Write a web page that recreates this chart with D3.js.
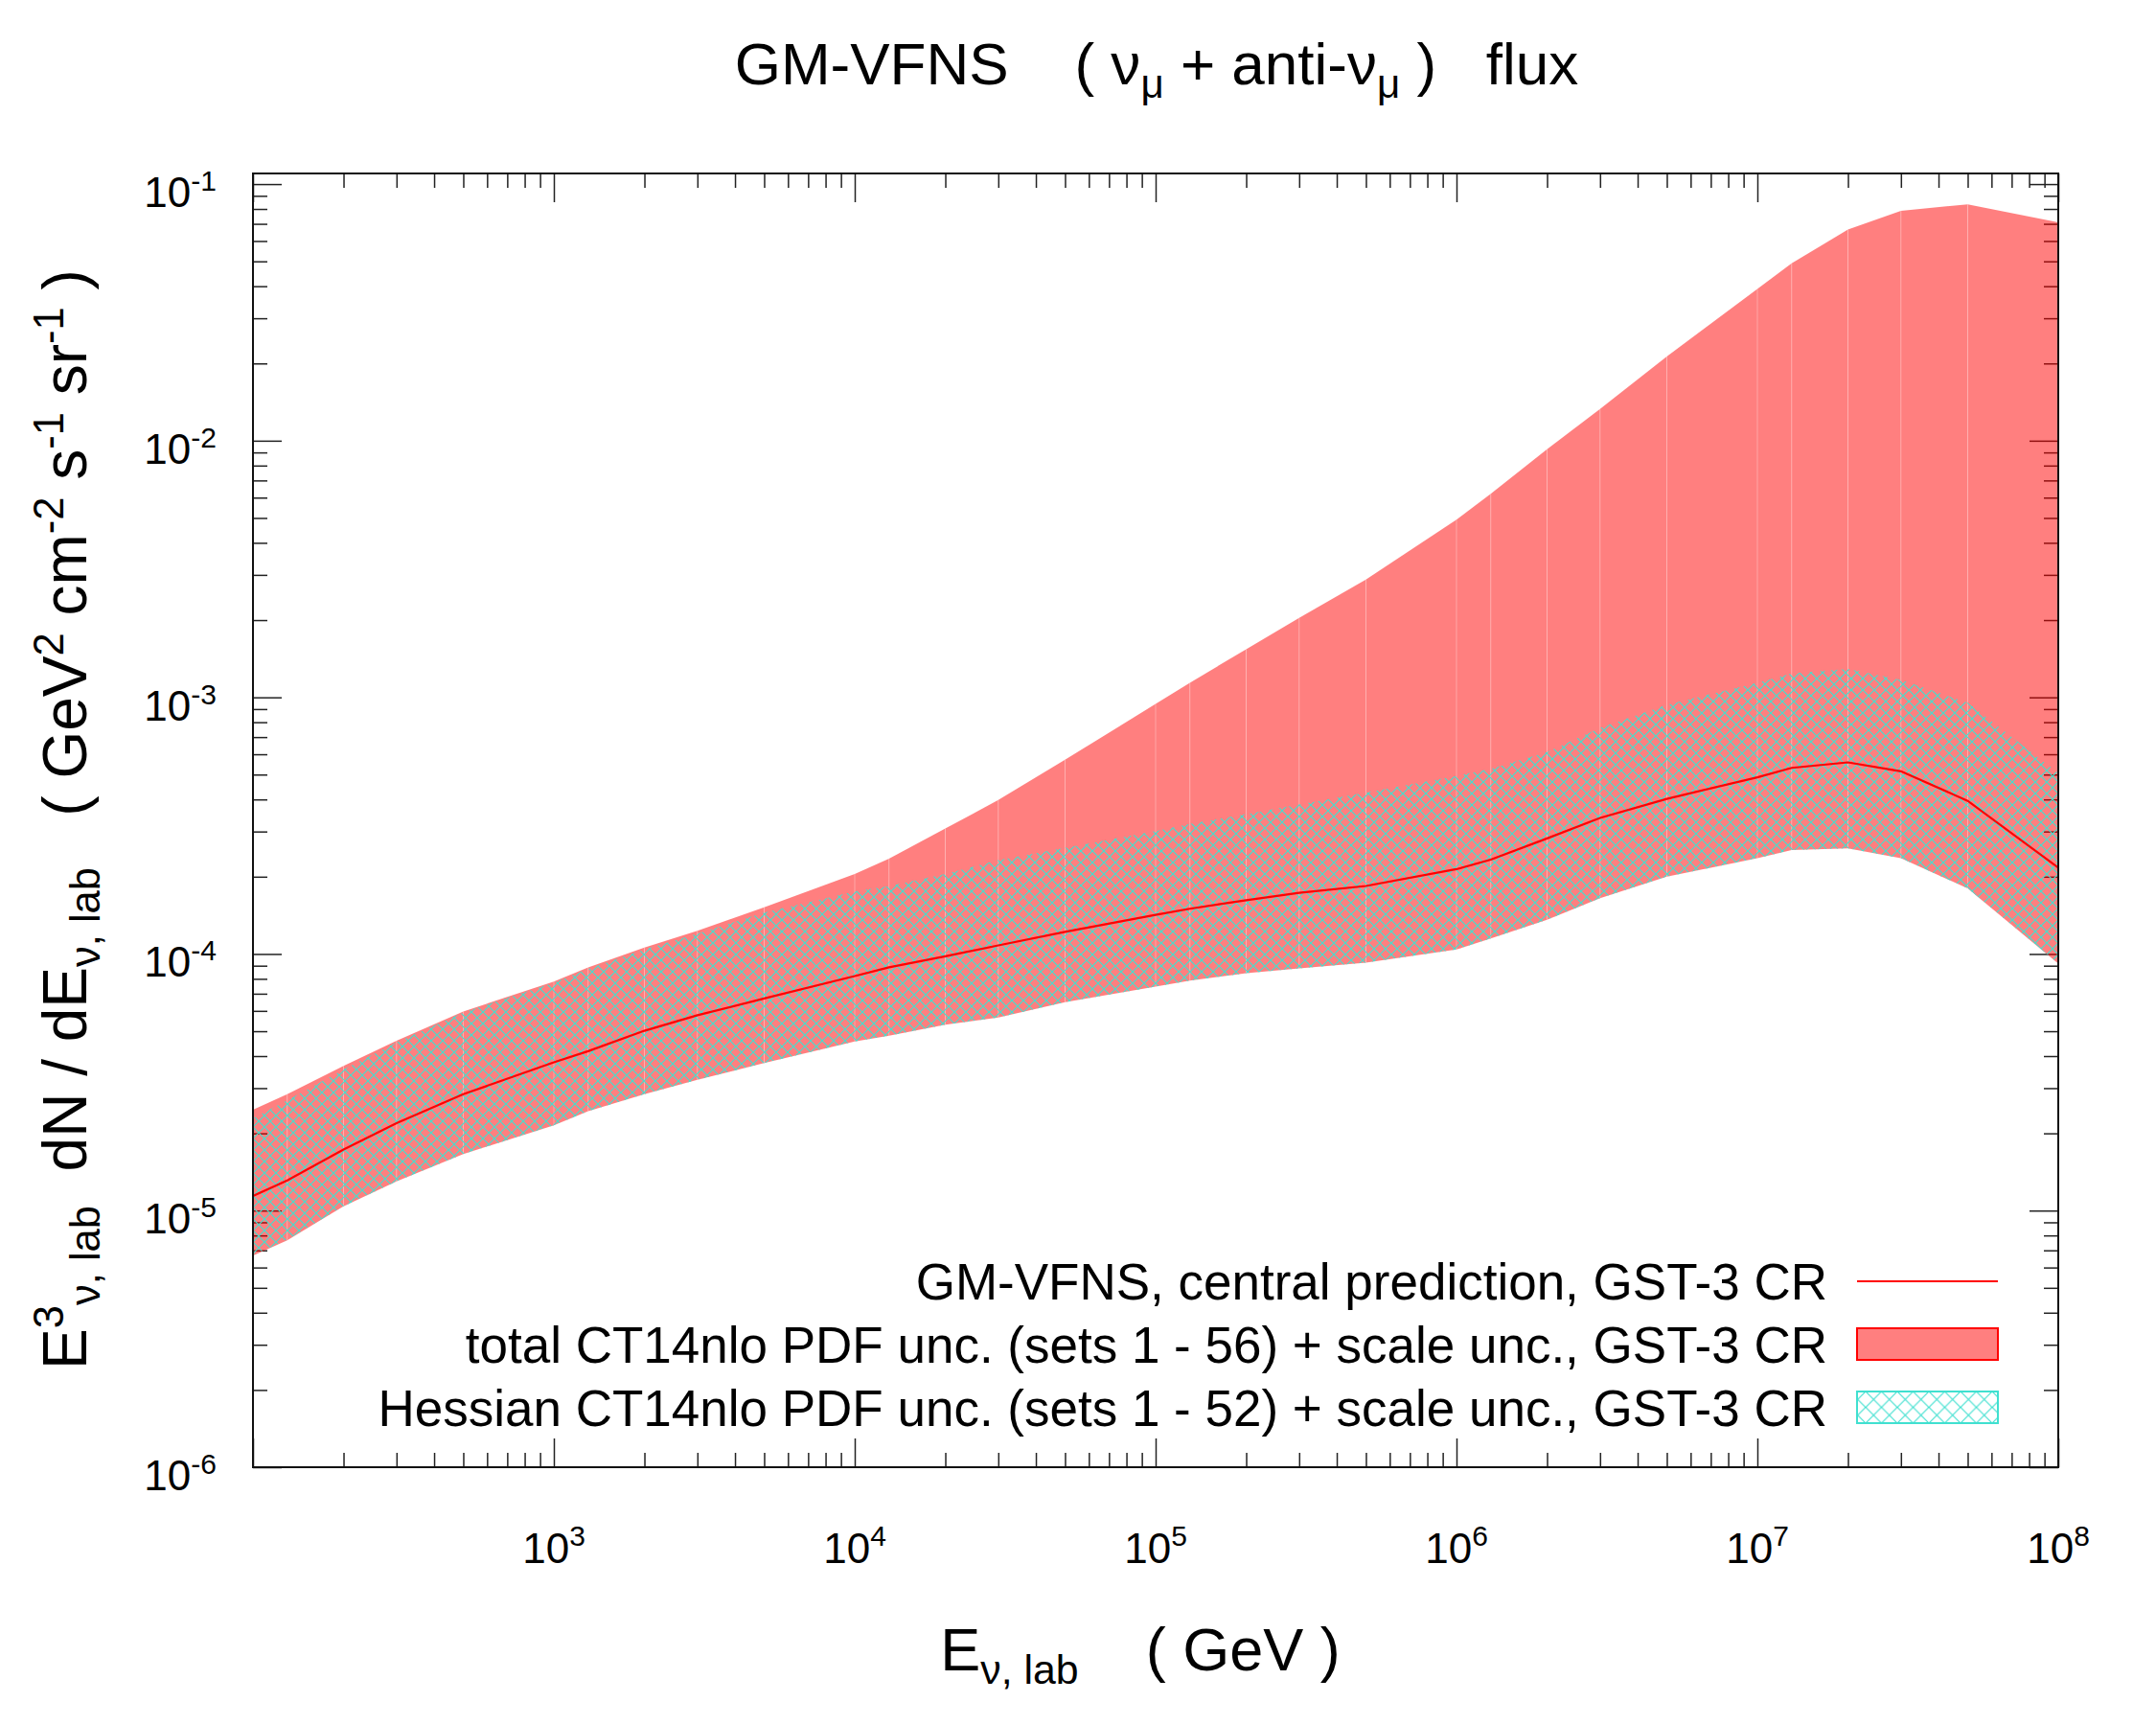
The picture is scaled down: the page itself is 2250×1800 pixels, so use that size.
<!DOCTYPE html>
<html>
<head>
<meta charset="utf-8">
<style>
  body { margin: 0; background: #fff; }
  svg { display: block; font-family: "Liberation Sans", Arial, sans-serif; }
  text { white-space: pre; }
</style>
</head>
<body>
<svg width="2250" height="1800"></svg>
<script src="https://unpkg.com/d3@7/dist/d3.min.js"></script>
<script>
// neutrino energy grid (GeV)
const energy = [1e2, 1.3e2, 2e2, 3e2, 5e2, 1e3, 1.3e3, 2e3, 3e3, 5e3,
                1e4, 1.3e4, 2e4, 3e4, 5e4, 1e5, 1.3e5, 2e5, 3e5, 5e5,
                1e6, 1.3e6, 2e6, 3e6, 5e6, 1e7, 1.3e7, 2e7, 3e7, 5e7, 1e8];

// central prediction
const central = [1.14e-5, 1.31e-5, 1.73e-5, 2.19e-5, 2.84e-5, 3.78e-5, 4.18e-5, 5.02e-5, 5.77e-5, 6.71e-5,
                 8.20e-5, 8.87e-5, 9.79e-5, 1.08e-4, 1.22e-4, 1.42e-4, 1.50e-4, 1.62e-4, 1.73e-4, 1.84e-4,
                 2.14e-4, 2.33e-4, 2.82e-4, 3.39e-4, 4.02e-4, 4.88e-4, 5.31e-4, 5.58e-4, 5.15e-4, 3.95e-4, 2.17e-4];

// total PDF + scale uncertainty band
const totalUp = [2.47e-5, 2.84e-5, 3.66e-5, 4.59e-5, 5.97e-5, 7.80e-5, 8.87e-5, 1.06e-4, 1.23e-4, 1.52e-4,
                 2.05e-4, 2.35e-4, 3.08e-4, 3.98e-4, 5.71e-4, 9.42e-4, 1.14e-3, 1.54e-3, 2.04e-3, 2.88e-3,
                 4.92e-3, 6.21e-3, 9.27e-3, 1.33e-2, 2.13e-2, 3.90e-2, 4.91e-2, 6.65e-2, 7.87e-2, 8.34e-2, 7.10e-2];
const totalLow = [6.68e-6, 7.66e-6, 1.04e-5, 1.30e-5, 1.66e-5, 2.15e-5, 2.44e-5, 2.84e-5, 3.23e-5, 3.76e-5,
                  4.56e-5, 4.80e-5, 5.30e-5, 5.65e-5, 6.49e-5, 7.46e-5, 7.87e-5, 8.41e-5, 8.79e-5, 9.25e-5,
                  1.04e-4, 1.15e-4, 1.36e-4, 1.65e-4, 2.00e-4, 2.36e-4, 2.54e-4, 2.58e-4, 2.36e-4, 1.80e-4, 9.18e-5];

// Hessian PDF + scale uncertainty band
const hessUp = [2.29e-5, 2.69e-5, 3.55e-5, 4.52e-5, 5.92e-5, 7.73e-5, 8.75e-5, 1.04e-4, 1.20e-4, 1.45e-4,
                1.75e-4, 1.84e-4, 2.05e-4, 2.32e-4, 2.59e-4, 3.01e-4, 3.21e-4, 3.51e-4, 3.82e-4, 4.26e-4,
                4.94e-4, 5.27e-4, 6.12e-4, 7.60e-4, 9.35e-4, 1.14e-3, 1.24e-3, 1.29e-3, 1.17e-3, 9.53e-4, 5.07e-4];
const hessLow = [6.70e-6, 7.70e-6, 1.04e-5, 1.30e-5, 1.66e-5, 2.15e-5, 2.44e-5, 2.84e-5, 3.23e-5, 3.76e-5,
                 4.56e-5, 4.80e-5, 5.30e-5, 5.65e-5, 6.49e-5, 7.46e-5, 7.87e-5, 8.41e-5, 8.79e-5, 9.25e-5,
                 1.04e-4, 1.15e-4, 1.36e-4, 1.65e-4, 2.00e-4, 2.36e-4, 2.54e-4, 2.58e-4, 2.36e-4, 1.80e-4, 9.20e-5];

const xMajor = [1e2, 1e3, 1e4, 1e5, 1e6, 1e7, 1e8];
const xLabelExp = [3, 4, 5, 6, 7, 8];
const yMajor = [1e-6, 1e-5, 1e-4, 1e-3, 1e-2, 1e-1];
const yLabelExp = [-6, -5, -4, -3, -2, -1];

const legendLabels = [
    'GM-VFNS, central prediction, GST-3 CR',
    'total CT14nlo PDF unc. (sets 1 - 56) + scale unc., GST-3 CR',
    'Hessian CT14nlo PDF unc. (sets 1 - 52) + scale unc., GST-3 CR'
];

const svg = d3.select('svg');
const box = {left: 264, right: 2148, top: 181, bottom: 1531};

const x = d3.scaleLog().domain([1e2, 1e8]).range([box.left, box.right]);
const y = d3.scaleLog().domain([1e-6, 0.11]).range([box.bottom, box.top]);

const minors = (lo, hi) => {
    const out = [];
    for (let p = Math.floor(Math.log10(lo)); p <= Math.ceil(Math.log10(hi)); p++) {
        for (let m = 2; m <= 9; m++) {
            const v = m * Math.pow(10, p);
            if (v > lo && v < hi) out.push(v);
        }
    }
    return out;
};
const xMinor = minors(1e2, 1e8);
const yMinor = minors(1e-6, 0.11);

const defs = svg.append('defs');
defs.append('clipPath').attr('id', 'clip')
    .append('rect')
    .attr('x', box.left).attr('y', box.top)
    .attr('width', box.right - box.left).attr('height', box.bottom - box.top);

function hatch(id, s) {
    const p = defs.append('pattern')
        .attr('id', id)
        .attr('patternUnits', 'userSpaceOnUse')
        .attr('width', s).attr('height', s);
    p.append('path')
        .attr('d', `M-1,-1L${s + 1},${s + 1}M${s + 1},-1L-1,${s + 1}`)
        .attr('stroke', '#40e0d0')
        .attr('stroke-width', 1.2)
        .attr('fill', 'none');
}
hatch('xhatch', 12);
hatch('xhatchLegend', 16.5);

// ticks (drawn first, the transparent band goes over them)
const tickG = svg.append('g');
const axisSpecs = [
    [d3.axisBottom(x), `translate(0,${box.bottom})`, xMajor, xMinor],
    [d3.axisTop(x), `translate(0,${box.top})`, xMajor, xMinor],
    [d3.axisLeft(y), `translate(${box.left},0)`, yMajor, yMinor],
    [d3.axisRight(y), `translate(${box.right},0)`, yMajor, yMinor]
];
axisSpecs.forEach(([ax, tr, maj, min]) => {
    [[maj, 30], [min, 15]].forEach(([vals, len]) => {
        const g = tickG.append('g')
            .attr('transform', tr)
            .call(ax.tickValues(vals).tickSize(-len).tickFormat(''));
        g.select('.domain').remove();
        g.selectAll('line').attr('stroke', '#222').attr('stroke-width', 1.5);
    });
});

// bands
const pts = energy.map((e, i) => ({e, c: central[i], tu: totalUp[i], tl: totalLow[i], hu: hessUp[i], hl: hessLow[i]}));
const plotG = svg.append('g').attr('clip-path', 'url(#clip)');

const totalArea = d3.area().x(d => x(d.e)).y0(d => y(d.tl)).y1(d => y(d.tu));
d3.pairs(pts).forEach(pair => {
    plotG.append('path')
        .attr('d', totalArea(pair))
        .attr('fill', 'rgba(255,0,0,0.5)');
});
// faint seams between the band pieces
plotG.selectAll('line.seam')
    .data(pts.slice(1, -1))
    .join('line')
    .attr('class', 'seam')
    .attr('x1', d => x(d.e)).attr('x2', d => x(d.e))
    .attr('y1', d => y(d.tl)).attr('y2', d => y(d.tu))
    .attr('stroke', 'rgba(255,255,255,0.3)')
    .attr('stroke-width', 1);

const hessArea = d3.area().x(d => x(d.e)).y0(d => y(d.hl)).y1(d => y(d.hu));
plotG.append('path')
    .attr('d', hessArea(pts))
    .attr('fill', 'url(#xhatch)');

const line = d3.line().x(d => x(d.e)).y(d => y(d.c));
plotG.append('path')
    .attr('d', line(pts))
    .attr('fill', 'none')
    .attr('stroke', '#ff0000')
    .attr('stroke-width', 2.2);

// frame
svg.append('rect')
    .attr('x', box.left).attr('y', box.top)
    .attr('width', box.right - box.left).attr('height', box.bottom - box.top)
    .attr('fill', 'none').attr('stroke', '#111').attr('stroke-width', 2);

// tick labels
const xl = svg.append('g').attr('font-size', 44).attr('fill', '#000');
xLabelExp.forEach(p => {
    const t = xl.append('text')
        .attr('x', x(Math.pow(10, p)))
        .attr('y', 1631)
        .attr('text-anchor', 'middle');
    t.append('tspan').text('10');
    t.append('tspan').attr('dy', -18).attr('font-size', 30).text(p);
});
const yl = svg.append('g').attr('font-size', 44).attr('fill', '#000');
yLabelExp.forEach(p => {
    const t = yl.append('text')
        .attr('x', 226)
        .attr('y', y(Math.pow(10, p)) + 24)
        .attr('text-anchor', 'end');
    t.append('tspan').text('10');
    t.append('tspan').attr('dy', -17).attr('font-size', 30).text(p);
});

// rich text helper: parts are [text, 'sup'|'sub'|null]
function rich(t, parts, size) {
    let shift = 0;
    parts.forEach(([s, kind]) => {
        const target = kind === 'sup' ? -0.38 * size : kind === 'sub' ? 0.22 * size : 0;
        t.append('tspan')
            .attr('dy', target - shift)
            .attr('font-size', kind ? size * 0.68 : size)
            .text(s);
        shift = target;
    });
}

// title
rich(svg.append('text').attr('x', 1207).attr('y', 88).attr('text-anchor', 'middle'),
    [['GM-VFNS    ( ν'], ['μ', 'sub'], [' + anti-ν'], ['μ', 'sub'], [' )   flux']], 62);

// x axis title
rich(svg.append('text').attr('x', 1190).attr('y', 1743).attr('text-anchor', 'middle'),
    [['E'], ['ν, lab', 'sub'], ['    ( GeV )']], 63);

// y axis title
rich(svg.append('text').attr('transform', 'translate(90,855) rotate(-90)').attr('text-anchor', 'middle'),
    [['E'], ['3', 'sup'], ['ν, lab', 'sub'], ['  dN / dE'], ['ν, lab', 'sub'], ['   ( GeV'], ['2', 'sup'],
     [' cm'], ['-2', 'sup'], [' s'], ['-1', 'sup'], [' sr'], ['-1', 'sup'], [' )']], 64);

// legend
const lg = svg.append('g').attr('font-size', 53);
const rowY = [1337, 1402.5, 1468.5];
legendLabels.forEach((s, i) => {
    lg.append('text')
        .attr('x', 1907).attr('y', rowY[i] + 19)
        .attr('text-anchor', 'end')
        .text(s);
});
lg.append('line')
    .attr('x1', 1938).attr('x2', 2085)
    .attr('y1', rowY[0]).attr('y2', rowY[0])
    .attr('stroke', '#ff0000').attr('stroke-width', 2);
lg.append('rect')
    .attr('x', 1938).attr('y', rowY[1] - 16.5)
    .attr('width', 147).attr('height', 33)
    .attr('fill', 'rgba(255,0,0,0.5)')
    .attr('stroke', '#ff0000').attr('stroke-width', 2);
lg.append('rect')
    .attr('x', 1938).attr('y', rowY[2] - 16.5)
    .attr('width', 147).attr('height', 33)
    .attr('fill', 'url(#xhatchLegend)')
    .attr('stroke', '#40e0d0').attr('stroke-width', 2);
</script>
</body>
</html>
